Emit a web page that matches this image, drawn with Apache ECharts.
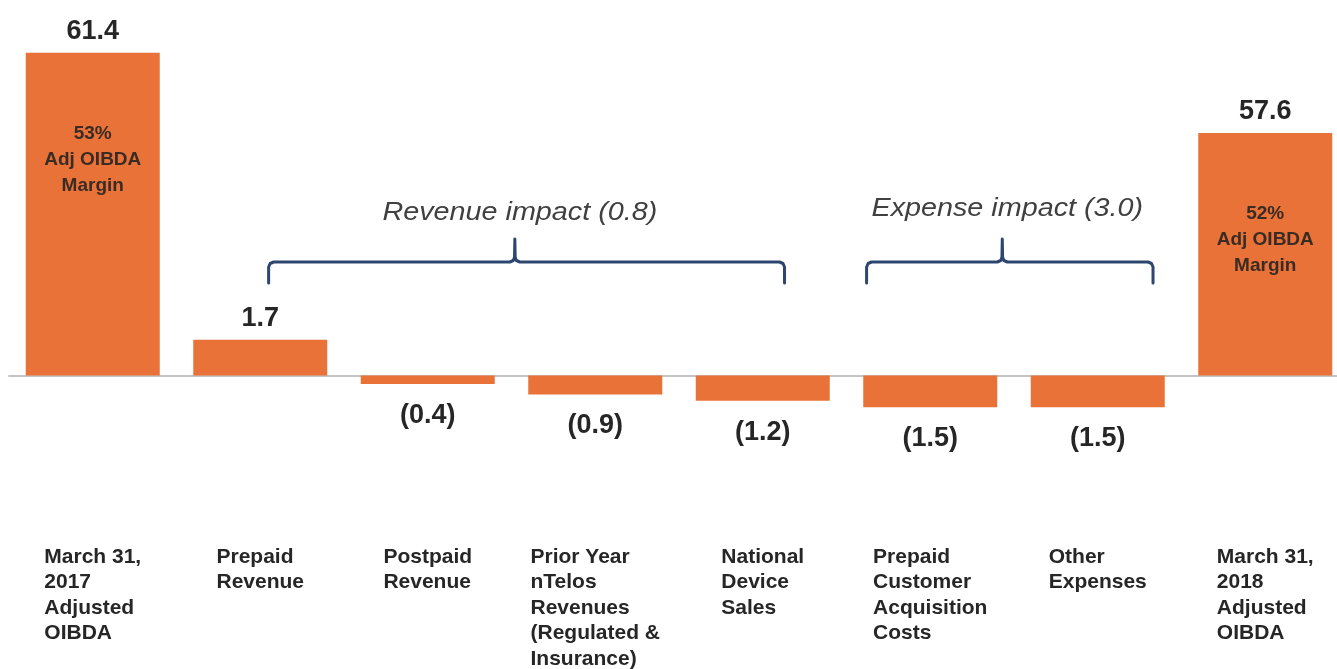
<!DOCTYPE html>
<html>
<head>
<meta charset="utf-8">
<script src="https://cdn.jsdelivr.net/npm/echarts@6.0.0/dist/echarts.min.js"></script>
<style>
  html, body { margin: 0; padding: 0; background: #ffffff; }
  #chart { width: 1337px; height: 669px; }
</style>
</head>
<body>
<div id="chart"></div>
<script>
// ---- data ----
const categories = [
  'March 31,\n2017\nAdjusted\nOIBDA',
  'Prepaid\nRevenue',
  'Postpaid\nRevenue',
  'Prior Year\nnTelos\nRevenues\n(Regulated &\nInsurance)',
  'National\nDevice\nSales',
  'Prepaid\nCustomer\nAcquisition\nCosts',
  'Other\nExpenses',
  'March 31,\n2018\nAdjusted\nOIBDA'
];
const values = [61.4, 1.7, -0.4, -0.9, -1.2, -1.5, -1.5, 57.6];
const marginLabels = ['53%\nAdj OIBDA\nMargin', '', '', '', '', '', '', '52%\nAdj OIBDA\nMargin'];
const groupTexts = ['Revenue impact (0.8)', 'Expense impact (3.0)'];

// ---- layout (category-index positions of the brace annotations) ----
const braceLayout = [
  { from: 1.05, to: 4.13, notch: 2.52, textY: 213 },
  { from: 4.62, to: 6.33, notch: 5.43, textY: 209 }
];

const FONT = "'Liberation Sans', Arial, sans-serif";
const BAR = '#E87238';

const chart = echarts.init(document.getElementById('chart'), null, { renderer: 'canvas' });

const option = {
  backgroundColor: '#ffffff',
  animation: false,
  grid: { left: 9, top: 0, width: 1340, height: 481, containLabel: false, outerBoundsMode: 'none' },
  xAxis: {
    type: 'category',
    data: categories,
    axisLine: { show: true, onZero: true, lineStyle: { color: '#c4c4c4', width: 2 } },
    axisTick: { show: false },
    splitLine: { show: false },
    axisLabel: {
      interval: 0,
      margin: 63,
      align: 'center',
      verticalAlign: 'top',
      formatter: function (v) {
        return v.split('\n').map(function (l) { return '{a|' + l + '}'; }).join('\n');
      },
      rich: {
        a: { align: 'left', fontFamily: FONT, fontSize: 21, fontWeight: 'bold', color: '#262626', lineHeight: 25.5 }
      }
    }
  },
  yAxis: {
    type: 'value',
    min: -5,
    max: 63.9,
    breaks: [{ start: 3, end: 49.1, gap: 0 }],
    breakArea: { show: false },
    axisLine: { show: false },
    axisTick: { show: false },
    axisLabel: { show: false },
    splitLine: { show: false }
  },
  series: [
    {
      type: 'bar',
      barWidth: '80%',
      itemStyle: { color: BAR },
      z: 3,
      label: {
        show: true,
        fontFamily: FONT,
        fontSize: 27,
        fontWeight: 'bold',
        color: '#262626',
        formatter: function (p) {
          const v = p.value;
          return v < 0 ? '(' + Math.abs(v).toFixed(1) + ')' : v.toFixed(1);
        }
      },
      data: values.map(function (v) {
        return {
          value: v,
          label: v < 0 ? { position: 'bottom', distance: 18 } : { position: 'top', distance: 8 }
        };
      })
    },
    {
      type: 'bar',
      barWidth: '80%',
      barGap: '-100%',
      data: values.map(function (v, i) { return marginLabels[i] ? v : '-'; }),
      itemStyle: { color: 'rgba(0,0,0,0)' },
      z: 4,
      silent: true,
      label: {
        show: true,
        position: 'insideTop',
        distance: 68,
        fontFamily: FONT,
        fontSize: 19,
        fontWeight: 'bold',
        color: '#3a2c24',
        lineHeight: 26,
        align: 'center',
        formatter: function (p) { return marginLabels[p.dataIndex]; }
      }
    }
  ]
};

chart.setOption(option);

// ---- brace annotations placed through the category axis ----
function catX(f) {
  const i0 = Math.floor(f);
  const p0 = chart.convertToPixel({ xAxisIndex: 0 }, i0);
  const p1 = chart.convertToPixel({ xAxisIndex: 0 }, i0 + 1);
  return p0 + (f - i0) * (p1 - p0);
}
const graphics = [];
braceLayout.forEach(function (b, k) {
  const L = catX(b.from), R = catX(b.to), N = catX(b.notch);
  const yH = 262, yEnd = 283, yTop = 239;
  const pts = [
    [L, yEnd], [L, yH + 5], [L + 1.5, yH + 1.5], [L + 5, yH],
    [N - 5, yH], [N - 1.5, yH - 1.5], [N - 0.3, yH - 5], [N, yTop],
    [N + 0.3, yH - 5], [N + 1.5, yH - 1.5], [N + 5, yH],
    [R - 5, yH], [R - 1.5, yH + 1.5], [R, yH + 5], [R, yEnd]
  ];
  graphics.push({
    type: 'polyline',
    shape: { points: pts },
    style: { stroke: '#2c4670', lineWidth: 3, fill: null, lineJoin: 'round', lineCap: 'round' },
    z: 10
  });
  graphics.push({
    type: 'text',
    x: N + 5,
    y: b.textY,
    scaleX: 1.15,
    style: {
      text: groupTexts[k],
      font: 'italic 25px ' + FONT,
      fill: '#404040',
      textAlign: 'center',
      textVerticalAlign: 'middle'
    },
    z: 10
  });
});
chart.setOption({ graphic: graphics });
</script>
</body>
</html>
